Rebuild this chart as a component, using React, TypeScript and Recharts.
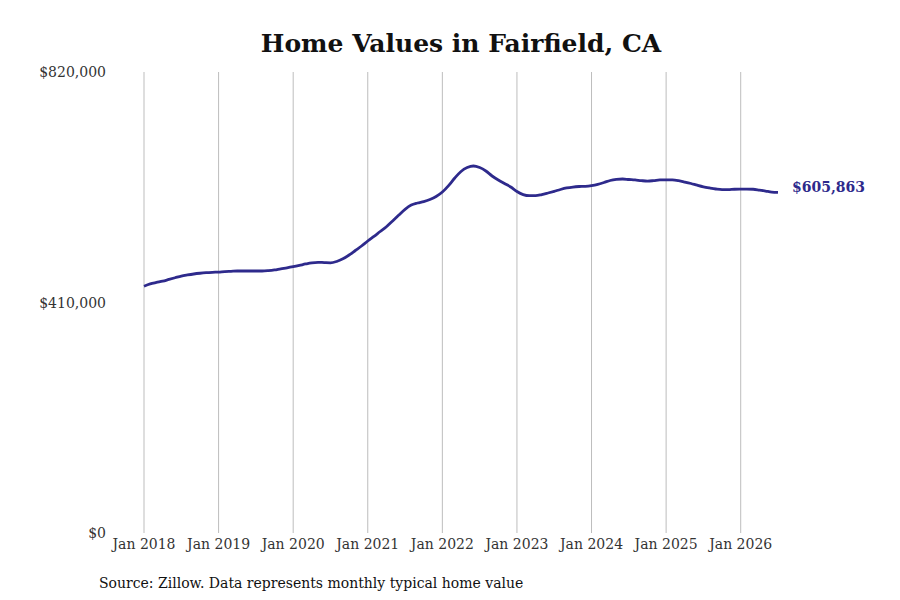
import React from "react"
import { LineChart, Line, XAxis, YAxis, ReferenceLine, LabelList } from "recharts"

const START_YEAR = 2018

// typical home value, monthly, Jan 2018 .. Jul 2026
const homeValues = [
  439000, 443000, 445600, 448000, 451000, 454000, 457000, 459000, 460700, 462000, 463000, 463700,
  464200, 465000, 465500, 466000, 466000, 466000, 466000, 466000, 466700, 468000, 470000, 471700,
  473700, 476000, 478500, 480600, 481500, 481000, 480600, 483000, 487700, 494500, 502500, 510500,
  519400, 527700, 536300, 544800, 555000, 565600, 575800, 583400, 587000, 589600, 593200, 598500,
  606500, 618000, 631400, 643000, 650000, 652800, 650000, 643900, 635000, 627900, 621700, 615400,
  607400, 602000, 600000, 600000, 602000, 604800, 607800, 611000, 613700, 615400, 616300, 616700,
  618000, 620200, 623400, 627000, 629000, 629700, 628800, 628000, 626800, 626000, 626800, 628000,
  628200, 628000, 626600, 624300, 621700, 618600, 615800, 613700, 611900, 610800, 610800, 611400,
  611500, 611500, 611400, 610000, 608300, 606500, 605863,
]

const yTicks = [0, 410000, 820000]
const xTicks = [0, 12, 24, 36, 48, 60, 72, 84, 96]

const data = homeValues.map((value, m) => ({ m, value }))

const LINE_COLOR = "#2e2a8c"
const FONT = "'DejaVu Serif', serif"

const fmtMoney = (v: number) => "$" + v.toLocaleString("en-US")

const YTick = (props: any) => {
  const { y, payload } = props
  return (
    <text x={106} y={y} dy={5} textAnchor="end" fontSize={14} fontFamily={FONT} fill="#333">
      {fmtMoney(payload.value)}
    </text>
  )
}

const EndLabel = (props: any) => {
  const { x, y, index, value } = props
  if (index !== homeValues.length - 1) return null
  return (
    <text x={x + 14} y={y} dy={0} fontSize={14} fontWeight="bold" fontFamily={FONT} fill={LINE_COLOR}>
      {fmtMoney(value)}
    </text>
  )
}

export default function App() {
  return (
    <div style={{ position: "absolute", left: 0, top: 0, width: 900, height: 600, background: "#fff" }}>
      <div
        style={{
          position: "absolute",
          top: 29,
          width: 900,
          left: 11,
          textAlign: "center",
          fontFamily: FONT,
          fontWeight: "bold",
          fontSize: 25,
          color: "#111",
        }}
      >
        Home Values in Fairfield, CA
      </div>
      <LineChart width={900} height={600} data={data} margin={{ top: 72, right: 122, bottom: 37, left: 44 }}>
        {xTicks.map((t) => (
          <ReferenceLine key={t} x={t} stroke="#bdbdbd" strokeWidth={1} />
        ))}
        <XAxis
          dataKey="m"
          type="number"
          domain={[0, homeValues.length - 1]}
          ticks={xTicks}
          tickFormatter={(v: number) => `Jan ${START_YEAR + v / 12}`}
          axisLine={false}
          tickLine={false}
          tick={{ fontSize: 14, fontFamily: FONT, fill: "#333" }}
          tickMargin={0}
          height={30}
          interval={0}
        />
        <YAxis
          domain={[0, 820000]}
          ticks={yTicks}
          axisLine={false}
          tickLine={false}
          tick={<YTick />}
          width={100}
          interval={0}
        />
        <Line
          type="monotone"
          dataKey="value"
          stroke={LINE_COLOR}
          strokeWidth={2.8}
          dot={false}
          isAnimationActive={false}
        >
          <LabelList dataKey="value" content={<EndLabel />} />
        </Line>
      </LineChart>
      <div
        style={{
          position: "absolute",
          left: 99,
          top: 575,
          fontFamily: FONT,
          fontSize: 14,
          color: "#111",
        }}
      >
        Source: Zillow. Data represents monthly typical home value
      </div>
    </div>
  )
}
